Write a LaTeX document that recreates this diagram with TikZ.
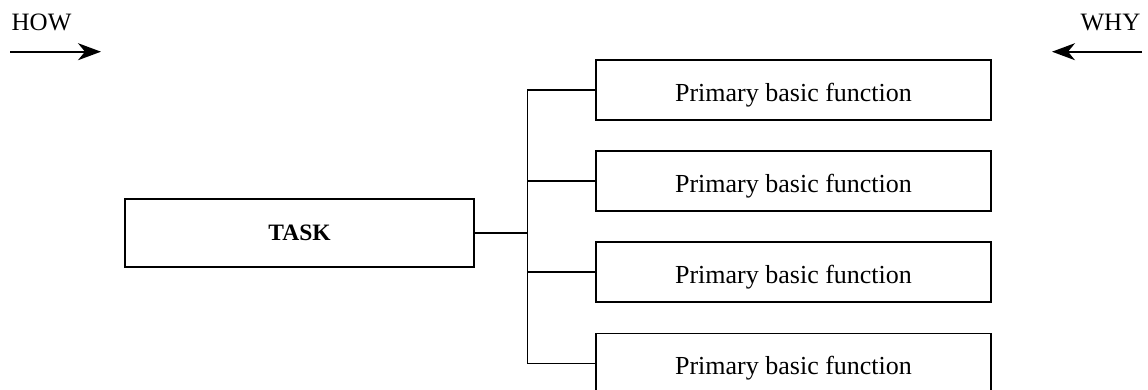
\documentclass[tikz,border=0pt]{standalone}
\usepackage{fontspec}
\setmainfont{Liberation Serif}
\usetikzlibrary{arrows.meta}
\begin{document}
\begin{tikzpicture}[x=1pt,y=-1pt,
  boxstyle/.style={draw,line width=1.6pt,inner sep=0pt,font=\fontsize{26}{30}\selectfont},
  fnbox/.style={boxstyle,minimum width=395pt,minimum height=60pt,text height=22pt,text depth=0pt},
  taskbox/.style={boxstyle,minimum width=349pt,minimum height=68pt,font=\fontsize{23.5}{28}\selectfont\bfseries},
  conn/.style={line width=1.6pt},
  dirarrow/.style={line width=1.8pt,-{Stealth[length=23pt,width=17pt,inset=7pt]}},
  label/.style={inner sep=0pt,font=\fontsize{25}{30}\selectfont}]
\useasboundingbox (0,0) rectangle (1148,389);
\node[taskbox] (task) at (299.5,233) {TASK};
\node[fnbox] (b1) at (793.5,90) {Primary basic function};
\node[fnbox] (b2) at (793.5,181) {Primary basic function};
\node[fnbox] (b3) at (793.5,272) {Primary basic function};
\node[fnbox] (b4) at (793.5,363.5) {Primary basic function};
\coordinate (trunk) at (527.5,233);
\draw[conn] (task.east) -- (trunk);
\foreach \b in {b1,b2,b3,b4} \draw[conn] (trunk) |- (\b.west);
\node[label,anchor=base west] (how) at (11.5,30.7) {HOW};
\node[label,anchor=base east] (why) at (1140.5,30.7) {WHY};
\coordinate (howA) at (10,51.7);
\coordinate (howB) at (101,51.7);
\coordinate (whyA) at (1142,51.7);
\coordinate (whyB) at (1052,51.7);
\draw[dirarrow] (howA) -- (howB);
\draw[dirarrow] (whyA) -- (whyB);
\end{tikzpicture}
\end{document}
